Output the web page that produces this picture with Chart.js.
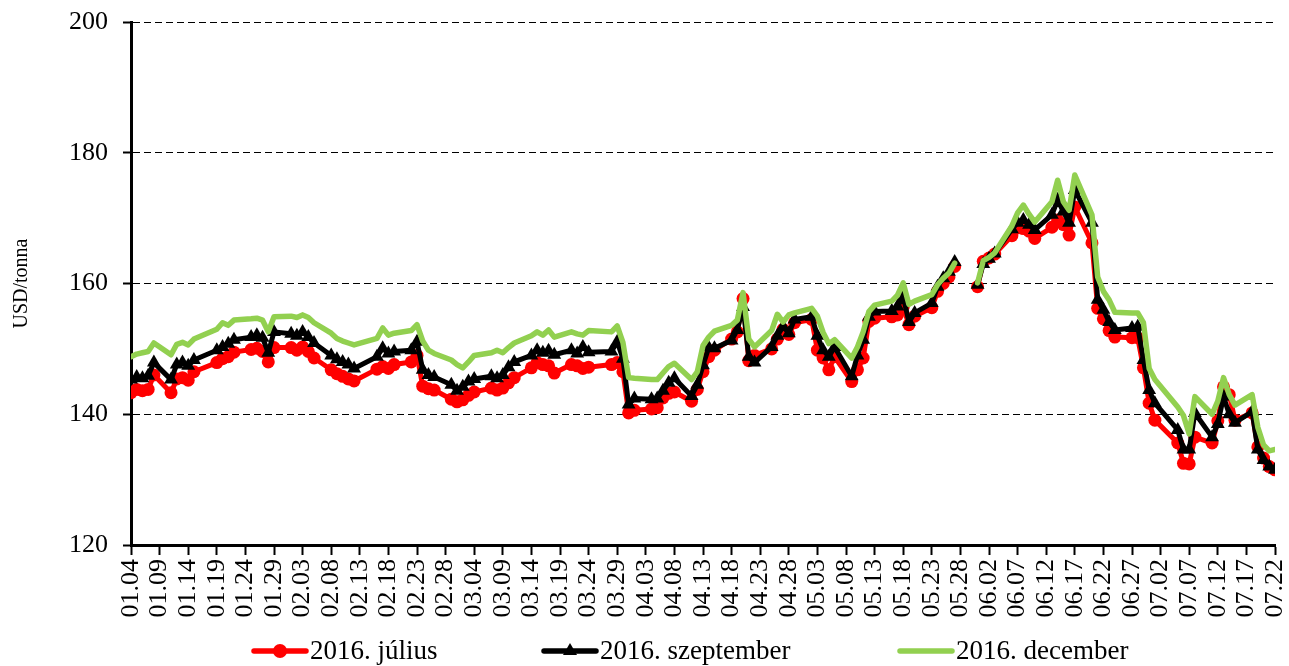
<!DOCTYPE html>
<html>
<head>
<meta charset="utf-8">
<script src="https://cdn.jsdelivr.net/npm/chart.js@4.4.0/dist/chart.umd.min.js"></script>
<style>
  body { margin: 0; background: #fff; }
  #chart { display: block; }
</style>
</head>
<body>
<canvas id="chart" width="1289" height="666"></canvas>
<script>

// trading days (MM.DD), 2016
const dates = [
    '01.04','01.05','01.06','01.07','01.08','01.11','01.12','01.13','01.14','01.15',
    '01.19','01.20','01.21','01.22','01.25','01.26','01.27','01.28','01.29',
    '02.01','02.02','02.03','02.04','02.05','02.08','02.09','02.10','02.11','02.12',
    '02.16','02.17','02.18','02.19','02.22','02.23','02.24','02.25','02.26','02.29',
    '03.01','03.02','03.03','03.04','03.07','03.08','03.09','03.10','03.11',
    '03.14','03.15','03.16','03.17','03.18','03.21','03.22','03.23','03.24',
    '03.28','03.29','03.30','03.31',
    '04.01','04.04','04.05','04.06','04.07','04.08','04.11','04.12','04.13','04.14','04.15',
    '04.18','04.19','04.20','04.21','04.22','04.25','04.26','04.27','04.28','04.29',
    '05.02','05.03','05.04','05.05','05.06','05.09','05.10','05.11','05.12','05.13',
    '05.16','05.17','05.18','05.19','05.20','05.23','05.24','05.25','05.26','05.27',
    '05.30','05.31',
    '06.01','06.02','06.03','06.06','06.07','06.08','06.09','06.10',
    '06.13','06.14','06.15','06.16','06.17','06.20','06.21','06.22','06.23','06.24',
    '06.27','06.28','06.29','06.30',
    '07.01','07.05','07.06','07.07','07.08','07.11','07.12','07.13','07.14','07.15',
    '07.18','07.19','07.20','07.21','07.22'
];

const julius = [
    143.3,143.8,143.6,143.8,146.0,143.3,145.4,145.6,145.2,146.5,
    147.9,148.5,148.8,149.5,149.9,150.1,149.6,148.0,150.2,
    150.2,149.8,150.3,149.6,148.6,146.8,146.2,145.8,145.4,145.1,
    146.9,147.3,147.0,147.6,148.0,149.0,144.3,143.9,143.7,142.3,
    141.9,142.2,142.9,143.4,144.0,143.7,144.0,144.8,145.6,
    147.1,147.9,147.6,147.4,146.3,147.6,147.4,147.0,147.2,
    147.6,147.9,146.5,140.2,
    140.6,140.8,141.0,142.5,143.2,143.4,142.0,143.8,146.5,148.8,149.8,
    151.5,152.6,157.7,148.2,149.0,150.0,151.5,153.0,152.2,154.0,
    154.5,149.8,148.6,146.8,148.8,145.0,146.8,148.6,154.2,154.7,
    154.9,155.2,156.4,153.7,155.0,156.3,158.8,160.0,161.0,162.6,
    null,159.5,
    163.4,163.9,164.5,167.3,168.5,168.4,168.0,166.9,
    168.6,169.7,169.0,167.4,171.7,166.2,156.2,154.6,152.8,151.8,
    151.7,151.7,147.1,141.7,
    139.1,135.6,132.5,132.4,136.5,135.6,139.0,144.2,143.0,139.1,
    140.2,135.0,133.3,132.0,131.5
];

const szeptember = [
    145.3,145.7,145.5,145.9,147.9,145.3,147.6,147.9,147.4,148.3,
    149.8,150.3,150.8,151.4,151.8,152.1,151.7,149.4,152.6,
    152.3,152.0,152.6,151.8,150.9,149.0,148.4,148.0,147.6,147.0,
    148.8,150.1,149.3,149.6,149.8,151.1,146.8,146.0,145.7,144.5,
    143.6,144.2,145.0,145.4,145.8,145.5,146.0,147.2,148.0,
    149.0,149.8,149.4,149.7,149.1,149.8,149.3,150.3,149.5,
    149.6,151.1,148.5,141.5,
    142.4,142.3,142.4,143.6,144.8,145.5,142.8,144.5,147.5,150.2,150.1,
    151.3,152.9,156.4,148.8,147.9,150.3,152.0,153.4,152.4,154.5,
    154.9,152.0,149.8,148.8,150.3,145.8,149.0,151.4,154.9,155.7,
    155.8,156.5,158.0,154.1,155.5,157.0,159.5,160.8,161.8,163.3,
    null,159.8,
    163.0,163.8,164.6,168.3,169.3,169.7,169.0,168.2,
    170.5,172.8,171.0,169.3,174.3,169.3,157.5,156.0,154.1,152.9,
    153.2,153.4,148.3,143.7,
    141.7,137.6,134.6,134.6,140.2,136.5,138.5,142.7,140.0,138.7,
    140.4,134.6,133.0,132.0,131.5
];

const december = [
    148.8,149.2,149.4,149.6,150.9,149.1,150.7,151.0,150.6,151.5,
    153.0,154.0,153.6,154.4,154.6,154.7,154.4,152.6,154.9,
    155.0,154.8,155.2,154.8,154.0,152.4,151.6,151.2,150.9,150.6,
    151.6,153.2,152.1,152.4,152.8,153.7,151.2,149.8,149.3,148.3,
    147.6,147.1,148.0,149.0,149.4,149.8,149.4,150.2,150.9,
    152.0,152.6,152.1,152.9,151.8,152.6,152.3,152.1,152.8,
    152.6,153.5,151.0,145.6,
    145.5,145.3,145.3,146.3,147.3,147.8,145.3,146.5,150.5,151.8,152.7,
    153.6,154.4,158.6,151.5,150.3,152.8,155.3,154.1,155.2,155.5,
    156.2,155.0,152.5,150.8,151.4,148.6,150.3,152.6,155.7,156.7,
    157.3,158.2,160.1,156.8,157.3,158.3,159.8,160.8,161.6,163.1,
    null,160.1,
    163.5,164.0,164.7,168.8,170.8,172.0,170.6,169.4,
    172.5,175.8,172.5,171.2,176.6,170.5,161.0,158.8,157.5,155.6,
    155.5,155.5,154.0,147.0,
    145.3,141.1,139.8,137.0,142.7,140.0,142.0,145.6,143.0,141.4,
    143.0,138.0,135.3,134.4,134.6
];

const seriesNames = ['2016. július', '2016. szeptember', '2016. december'];

const tickLabels = [
    '01.04','01.09','01.14','01.19','01.24','01.29','02.03','02.08','02.13','02.18',
    '02.23','02.28','03.04','03.09','03.14','03.19','03.24','03.29','04.03','04.08',
    '04.13','04.18','04.23','04.28','05.03','05.08','05.13','05.18','05.23','05.28',
    '06.02','06.07','06.12','06.17','06.22','06.27','07.02','07.07','07.12','07.17',
    '07.22'
];

const yTicks = [120, 140, 160, 180, 200];


// day number counted from 01.04
function dayIndex(md)
{
    let parts = md.split('.');
    let d = new Date(2016, parseInt(parts[0], 10) - 1, parseInt(parts[1], 10));
    let start = new Date(2016, 0, 4);
    return Math.round((d - start) / 86400000);
}

function toPoints(values)
{
    let pts = [];
    for(let i = 0; i < dates.length; i++)
    {
        pts.push({x: dayIndex(dates[i]), y: values[i]});
    }
    return pts;
}

const serif = '"Liberation Serif", "Times New Roman", serif';

// legend drawn like the Excel one: line sample with marker, then text
const bottomLegend = {
    id: 'bottomLegend',
    afterDraw(chart) {
        const ctx = chart.ctx;
        const xs = [252, 542, 898];
        const y = 651;
        ctx.save();
        ctx.font = '27px ' + serif;
        ctx.textBaseline = 'middle';
        chart.data.datasets.forEach((ds, i) => {
            let x = xs[i];
            ctx.strokeStyle = ds.borderColor;
            ctx.lineWidth = 5.5;
            ctx.lineCap = 'round';
            ctx.beginPath();
            ctx.moveTo(x + 2, y);
            ctx.lineTo(x + 54, y);
            ctx.stroke();
            ctx.fillStyle = ds.borderColor;
            if (ds.pointStyle === 'circle' && ds.pointRadius > 0) {
                ctx.beginPath();
                ctx.arc(x + 28, y, 7, 0, Math.PI * 2);
                ctx.fill();
            } else if (ds.pointStyle === 'triangle' && ds.pointRadius > 0) {
                ctx.beginPath();
                ctx.moveTo(x + 28, y - 8);
                ctx.lineTo(x + 35, y + 4);
                ctx.lineTo(x + 21, y + 4);
                ctx.closePath();
                ctx.fill();
            }
            ctx.fillStyle = '#000';
            ctx.fillText(ds.label, x + 58, y + 1);
        });
        ctx.restore();
    }
};

const ctx = document.getElementById('chart');

new Chart(ctx, {
    type: 'line',
    data: {
        datasets: [
            {
                label: seriesNames[0],
                data: toPoints(julius),
                borderColor: '#FF0000',
                backgroundColor: '#FF0000',
                borderWidth: 5,
                pointStyle: 'circle',
                pointRadius: 6.5,
                pointBorderWidth: 0,
                order: 3
            },
            {
                label: seriesNames[1],
                data: toPoints(szeptember),
                borderColor: '#000000',
                backgroundColor: '#000000',
                borderWidth: 5,
                pointStyle: 'triangle',
                pointRadius: 8,
                pointBorderWidth: 0,
                order: 2
            },
            {
                label: seriesNames[2],
                data: toPoints(december),
                borderColor: '#92D050',
                backgroundColor: '#92D050',
                borderWidth: 5.5,
                pointRadius: 0,
                order: 1
            }
        ]
    },
    options: {
        responsive: false,
        animation: false,
        spanGaps: false,
        layout: {
            padding: {top: 22, right: 14, bottom: 36, left: 0}
        },
        elements: {
            line: { tension: 0, borderCapStyle: 'round', borderJoinStyle: 'round' }
        },
        plugins: {
            legend: { display: false },
            tooltip: { enabled: false }
        },
        scales: {
            x: {
                type: 'linear',
                min: 0,
                max: 200,
                afterFit: (scale) => {
                    scale.height = 85;
                    scale.paddingLeft = 0;
                    scale.paddingRight = 0;
                },
                grid: {
                    drawOnChartArea: false,
                    drawTicks: true,
                    tickLength: 10,
                    tickWidth: 2,
                    tickColor: '#000'
                },
                border: { color: '#000', width: 3 },
                ticks: {
                    stepSize: 5,
                    autoSkip: false,
                    minRotation: 90,
                    maxRotation: 90,
                    padding: 4,
                    color: '#000',
                    font: { family: serif, size: 26 },
                    callback: (v) => tickLabels[Math.round(v / 5)]
                }
            },
            y: {
                min: yTicks[0],
                max: yTicks[yTicks.length - 1],
                afterFit: (scale) => {
                    scale.width = 131;
                    scale.paddingTop = 0;
                    scale.paddingBottom = 0;
                },
                afterBuildTicks: (scale) => { scale.ticks = yTicks.map(v => ({value: v})); },
                title: {
                    display: true,
                    text: 'USD/tonna',
                    color: '#000',
                    font: { family: serif, size: 20 },
                    padding: { top: 10, bottom: 0 }
                },
                grid: {
                    color: '#000',
                    lineWidth: 1,
                    tickLength: 8,
                    tickWidth: 2,
                    tickColor: '#000',
                    tickBorderDash: []
                },
                border: { color: '#000', width: 3, dash: [7, 4] },
                ticks: {
                    padding: 15,
                    color: '#000',
                    font: { family: serif, size: 26 }
                }
            }
        }
    },
    plugins: [bottomLegend]
});

</script>
</body>
</html>
